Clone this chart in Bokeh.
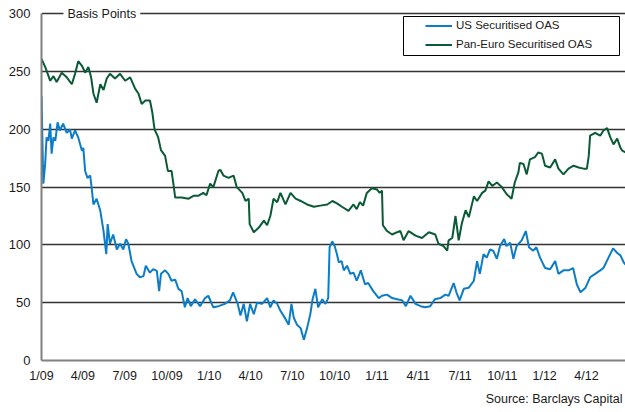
import pandas as pd
from bokeh.plotting import figure
from bokeh.models import (Range1d, FixedTicker, Legend, LegendItem, Label,
                          BoxAnnotation, ColumnDataSource, Title)
from bokeh.embed import file_html
from bokeh.resources import INLINE

# ---------------- data ----------------
us_dates = [
    "2009-01-01", "2009-01-03", "2009-01-05", "2009-01-09", "2009-01-12", "2009-01-16", "2009-01-20", "2009-01-23", "2009-01-27", "2009-01-31",
    "2009-02-05", "2009-02-10", "2009-02-17", "2009-02-25", "2009-03-04", "2009-03-08", "2009-03-15", "2009-03-22", "2009-03-30", "2009-04-02",
    "2009-04-06", "2009-04-11", "2009-04-17", "2009-04-20", "2009-04-24", "2009-05-01", "2009-05-09", "2009-05-16", "2009-05-22", "2009-05-25",
    "2009-05-30", "2009-06-06", "2009-06-14", "2009-06-21", "2009-06-28", "2009-07-04", "2009-07-09", "2009-07-16", "2009-07-27", "2009-08-03",
    "2009-08-11", "2009-08-16", "2009-08-25", "2009-09-01", "2009-09-09", "2009-09-14", "2009-09-18", "2009-09-27", "2009-10-04", "2009-10-11",
    "2009-10-19", "2009-10-26", "2009-11-02", "2009-11-09", "2009-11-15", "2009-11-22", "2009-12-01", "2009-12-12", "2009-12-23", "2009-12-30",
    "2010-01-10", "2010-01-21", "2010-02-04", "2010-02-15", "2010-02-22", "2010-03-04", "2010-03-10", "2010-03-17", "2010-03-24", "2010-03-31",
    "2010-04-08", "2010-04-15", "2010-04-26", "2010-05-07", "2010-05-14", "2010-05-21", "2010-05-29", "2010-06-05", "2010-06-16", "2010-06-23",
    "2010-06-29", "2010-07-04", "2010-07-11", "2010-07-19", "2010-07-26", "2010-08-02", "2010-08-09", "2010-08-14", "2010-08-20", "2010-08-26",
    "2010-09-04", "2010-09-11", "2010-09-17", "2010-09-20", "2010-09-26", "2010-10-01", "2010-10-06", "2010-10-10", "2010-10-16", "2010-10-21",
    "2010-10-28", "2010-11-04", "2010-11-11", "2010-11-18", "2010-11-27", "2010-12-06", "2010-12-13", "2010-12-24",
    "2011-01-05", "2011-01-12", "2011-01-23", "2011-02-03", "2011-02-14", "2011-02-25", "2011-03-05", "2011-03-15", "2011-03-26", "2011-04-06",
    "2011-04-16", "2011-04-27", "2011-05-07", "2011-05-19", "2011-05-30", "2011-06-06", "2011-06-17", "2011-06-23", "2011-06-30", "2011-07-09",
    "2011-07-20", "2011-07-31", "2011-08-07", "2011-08-13", "2011-08-21", "2011-08-28", "2011-09-04", "2011-09-11", "2011-09-19", "2011-09-26",
    "2011-10-05", "2011-10-10", "2011-10-18", "2011-10-25", "2011-11-01", "2011-11-12", "2011-11-21", "2011-11-28", "2011-12-07", "2011-12-14",
    "2011-12-22",
    "2012-01-02", "2012-01-13", "2012-01-24", "2012-01-31", "2012-02-11", "2012-02-22", "2012-03-03", "2012-03-11", "2012-03-19", "2012-03-30",
    "2012-04-09", "2012-04-20", "2012-05-01", "2012-05-08", "2012-05-19", "2012-05-29", "2012-06-07", "2012-06-14", "2012-06-21", "2012-06-25",
]
us_values = [
    229, 190, 153, 170, 193, 190, 205, 179, 193, 190,
    206, 199, 205, 197, 200, 192, 199, 193, 181.5, 184,
    164, 158, 160, 150, 135, 140, 129.5, 112, 92, 118,
    101, 109, 96, 101, 96, 105, 101, 86, 75, 72,
    73, 82, 76, 79, 77.6, 60, 75, 78, 75, 69,
    70, 62, 60, 46, 54, 47, 53, 47, 54, 56,
    46, 47, 49, 52, 59, 49, 39, 49, 34, 49,
    40, 50, 49, 54, 46, 52, 49, 43, 36, 31,
    49, 37, 31, 28, 18, 28, 40, 53, 62, 46,
    53, 49, 54, 98, 103, 99, 92, 85, 86, 78,
    82, 75, 76, 69, 78, 66, 67, 60,
    54, 56, 57, 54, 53, 52, 47, 56, 49, 47,
    46, 47, 53, 54, 57, 56, 67, 59, 52, 62,
    63, 69, 86, 75, 92, 89, 96, 95, 88, 99,
    105, 99, 102, 88, 99, 104, 112, 98, 95, 98,
    89,
    80, 79, 86, 75, 78, 78, 80, 66, 59, 63,
    72, 75, 78, 80, 89, 97, 93, 91, 85, 83,
]

euro_dates = [
    "2009-01-01", "2009-01-09", "2009-01-20", "2009-01-27", "2009-02-03", "2009-02-14", "2009-02-25", "2009-03-08", "2009-03-15", "2009-03-22",
    "2009-03-30", "2009-04-06", "2009-04-13", "2009-04-19", "2009-04-24", "2009-05-01", "2009-05-09", "2009-05-16", "2009-05-23", "2009-05-30",
    "2009-06-10", "2009-06-21", "2009-07-02", "2009-07-13", "2009-07-24", "2009-07-31", "2009-08-07", "2009-08-15", "2009-08-25", "2009-08-30",
    "2009-09-04", "2009-09-12", "2009-09-18", "2009-09-27", "2009-10-03", "2009-10-11", "2009-10-15", "2009-10-19", "2009-11-02", "2009-11-17",
    "2009-11-28", "2009-12-08", "2009-12-19", "2009-12-26",
    "2010-01-03", "2010-01-10", "2010-01-21", "2010-01-25", "2010-02-01", "2010-02-12", "2010-02-23", "2010-03-02", "2010-03-14", "2010-03-21",
    "2010-03-28", "2010-03-30", "2010-04-08", "2010-04-19", "2010-04-30", "2010-05-07", "2010-05-14", "2010-05-21", "2010-05-29", "2010-06-05",
    "2010-06-16", "2010-06-27", "2010-07-08", "2010-07-19", "2010-08-02", "2010-08-17", "2010-08-31", "2010-09-15", "2010-09-26", "2010-10-06",
    "2010-10-17", "2010-10-31", "2010-11-11", "2010-11-18", "2010-11-25", "2010-12-02", "2010-12-10", "2010-12-21",
    "2011-01-01", "2011-01-07", "2011-01-12", "2011-01-14", "2011-01-23", "2011-02-03", "2011-02-14", "2011-02-21", "2011-02-28", "2011-03-11",
    "2011-03-26", "2011-04-09", "2011-04-24", "2011-05-08", "2011-05-15", "2011-05-26", "2011-06-03", "2011-06-06", "2011-06-14", "2011-06-21",
    "2011-06-28", "2011-07-05", "2011-07-13", "2011-07-20", "2011-07-31", "2011-08-07", "2011-08-18", "2011-08-25", "2011-09-01", "2011-09-09",
    "2011-09-19", "2011-09-30", "2011-10-10", "2011-10-21", "2011-10-28", "2011-11-05", "2011-11-08", "2011-11-16", "2011-11-23", "2011-11-30",
    "2011-12-11", "2011-12-18", "2011-12-26",
    "2012-01-02", "2012-01-13", "2012-01-24", "2012-01-31", "2012-02-11", "2012-02-22", "2012-03-04", "2012-03-15", "2012-03-26", "2012-04-02",
    "2012-04-06", "2012-04-09", "2012-04-20", "2012-05-01", "2012-05-08", "2012-05-16", "2012-05-23", "2012-05-30", "2012-06-07", "2012-06-14",
    "2012-06-18", "2012-06-25",
]
euro_values = [
    261, 254, 242, 246, 241, 249, 245, 239, 248, 259,
    255, 249, 254, 245, 231, 223, 239, 234, 244, 248,
    244, 248, 242, 245, 235, 231, 222, 225, 225, 215,
    200, 193, 182, 177, 164, 164, 153, 141, 141, 140,
    142.5, 142.5, 145, 143,
    153, 150, 164, 165, 160, 158, 160, 150, 145, 138,
    140, 118, 111, 115, 121, 117, 125, 140, 137, 145,
    135, 145, 140, 138, 135, 133, 134, 135, 138, 136,
    133, 129.5, 135, 131, 137, 134, 145, 149,
    148, 145, 147, 117, 112, 109, 111, 112, 104, 112,
    108, 106, 111, 109, 101, 99, 95, 104, 106, 125,
    104, 119, 130, 124, 142, 138, 145, 147, 155, 151,
    154, 150, 144, 140, 154, 163, 171, 170, 161, 174,
    176, 180, 179,
    168.5, 167, 174, 166, 161, 166, 168.5, 167, 166, 166,
    177, 194.5, 197, 194.5, 199, 201, 193, 187, 192, 184,
    181.5, 180,
]

tick_dates = ["2009-01-01", "2009-04-01", "2009-07-01", "2009-10-01", "2010-01-01", "2010-04-01", "2010-07-01",
              "2010-10-01", "2011-01-01", "2011-04-01", "2011-07-01", "2011-10-01", "2012-01-01", "2012-04-01"]
tick_labels = ["1/09", "4/09", "7/09", "10/09", "1/10", "4/10", "7/10",
               "10/10", "1/11", "4/11", "7/11", "10/11", "1/12", "4/12"]
y_ticks = [0, 50, 100, 150, 200, 250, 300]

x_start = "2009-01-01"
x_end = "2012-06-25"

series_names = ["US Securitised OAS", "Pan-Euro Securitised OAS"]
title_text = "Basis Points"
source_text = "Source: Barclays Capital"

# ---------------- styling ----------------
FONT = "Liberation Sans"
TEXT_COLOR = "#1a1a1a"
BLUE = "#0b7dc8"
GREEN = "#0a5a36"


def ms(d):
    return pd.Timestamp(d).value // 10**6


p = figure(width=625, height=412, x_axis_type="datetime",
           output_backend="svg", toolbar_location=None,
           x_range=Range1d(ms(x_start), ms(x_end)), y_range=Range1d(0, 308),
           min_border_left=41, min_border_right=0, min_border_top=4, min_border_bottom=52)
p.outline_line_color = None
p.background_fill_color = "white"
p.border_fill_color = "white"

src_us = ColumnDataSource(dict(x=pd.to_datetime(us_dates), y=us_values))
src_eu = ColumnDataSource(dict(x=pd.to_datetime(euro_dates), y=euro_values))

r_us = p.line("x", "y", source=src_us, line_color=BLUE, line_width=2)
r_eu = p.line("x", "y", source=src_eu, line_color=GREEN, line_width=2)

# axes
tick_ms = [ms(d) for d in tick_dates]
p.xaxis.ticker = FixedTicker(ticks=tick_ms)
p.xaxis.major_label_overrides = {t: l for t, l in zip(tick_ms, tick_labels)}
p.yaxis.ticker = FixedTicker(ticks=y_ticks)
p.yaxis.bounds = (y_ticks[0], y_ticks[-1])
for ax in (p.xaxis, p.yaxis):
    ax.axis_line_color = "#808080"
    ax.axis_line_width = 2
    ax.major_tick_in = 0
    ax.major_tick_out = 0
    ax.minor_tick_in = 0
    ax.minor_tick_out = 0
    ax.major_label_text_font = FONT
    ax.major_label_text_color = TEXT_COLOR
p.xaxis.major_label_text_font_size = "12.5px"
p.yaxis.major_label_text_font_size = "13px"
p.xaxis.major_label_standoff = 8
p.yaxis.major_label_standoff = 11

p.xgrid.visible = False
p.ygrid.ticker = FixedTicker(ticks=y_ticks[1:])
p.ygrid.grid_line_color = "#333333"
p.ygrid.grid_line_width = 1.3

# "Basis Points" label sitting on the top gridline
p.add_layout(Label(x=22, y=300, x_units="screen", y_units="data", text=title_text,
                   text_font=FONT, text_font_size="12.5px", text_color=TEXT_COLOR,
                   text_align="left", text_baseline="middle",
                   background_fill_color="white", background_fill_alpha=1.0, padding=4))

# legend box + legend
p.add_layout(BoxAnnotation(left=362, right=578, top=344, bottom=305,
                           left_units="screen", right_units="screen",
                           top_units="screen", bottom_units="screen",
                           fill_color="white", fill_alpha=1.0,
                           line_color="black", line_alpha=1.0, line_width=1))
legend = Legend(items=[LegendItem(label=series_names[0], renderers=[r_us]),
                       LegendItem(label=series_names[1], renderers=[r_eu])],
                location=(384, 306.5), padding=0, margin=0, spacing=0,
                glyph_width=27, glyph_height=19, label_height=19, label_standoff=4,
                label_text_font=FONT, label_text_font_size="11.5px",
                label_text_color=TEXT_COLOR,
                border_line_alpha=0, background_fill_alpha=0)
p.add_layout(legend)

# source note
p.add_layout(Title(text=source_text, align="right", offset=3, standoff=9,
                   text_font=FONT, text_font_size="12.5px", text_font_style="normal",
                   text_color=TEXT_COLOR), "below")

open("out.html", "w").write(file_html(p, INLINE))
